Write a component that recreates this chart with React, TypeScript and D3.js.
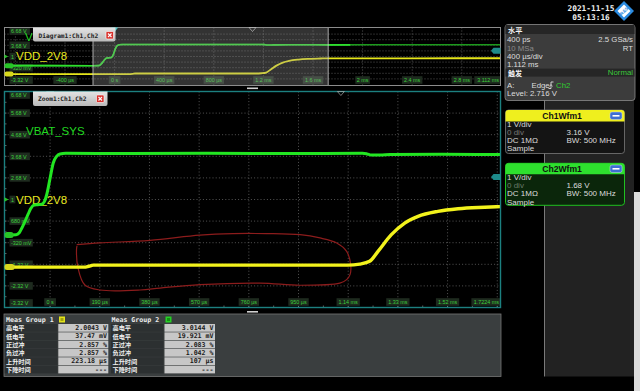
import React from "react";
import * as d3 from "d3";

type P = [number, number];

// ---------------- data ----------------
// Zoom1 (main) window: time in µs, volts on grid
const mainTimeDomain: P = [-174.4, 1722.4];
const mainTimeTicks = [0, 190, 380, 570, 760, 950, 1140, 1330, 1520, 1710];
const mainTimeLabels = ["0 s", "190 µs", "380 µs", "570 µs", "760 µs", "950 µs", "1.14 ms", "1.33 ms", "1.52 ms", ""];
const mainEndLabel = "1.7224 ms";

const voltDomain: P = [-3.32, 6.68];
const voltTicks = [6.68, 5.68, 4.68, 3.68, 2.68, 1.68, 0.68, -0.32, -1.32, -2.32, -3.32];
// 1.68 V label is hidden behind the VDD_2V8 text except its first digit
const voltLabels = ["6.68 V", "5.68 V", "4.68 V", "3.68 V", "2.68 V", "1", "680 mV", "-320 mV", "-1.32 V", "-2.32 V", "-3.32 V"];

// Diagram1 (overview)
const ovTimeDomain: P = [-888, 3112];
const ovTimeTicks = [-800, -400, 0, 400, 800, 1200, 1600, 2000, 2400, 2800];
const ovTimeLabels = ["", "-400 µs", "0 s", "400 µs", "800 µs", "1.2 ms", "1.6 ms", "2 ms", "2.4 ms", "2.8 ms"];
const ovEndLabel = "3.112 ms";
const ovVoltLabelTicks = [6.68, 3.68, 1.68, -0.32, -3.32];
const ovVoltLabels = ["6.68 V", "3.68 V", "1", "-320 mV", "-3.32 V"];

// Traces (t µs, V)
const vbatSys: P[] = [
  [-174.4, 0.04], [-130, 0.05], [-118, 0.14], [-108, 0.36], [-96, 0.67], [-84, 1.0], [-74, 1.26],
  [-64, 1.41], [-48, 1.44], [-32, 1.46], [-22, 1.58], [-13, 1.9], [0, 2.67], [12, 3.37], [25, 3.68],
  [38, 3.79], [60, 3.82], [300, 3.81], [600, 3.82], [900, 3.81], [1195, 3.82], [1212, 3.79],
  [1228, 3.74], [1262, 3.74], [1300, 3.76], [1500, 3.77], [1722.4, 3.76],
];
const vdd2v8: P[] = [
  [-174.4, -1.45], [130, -1.45], [148, -1.41], [165, -1.36], [700, -1.36], [1138, -1.36],
  [1184, -1.31], [1222, -1.18], [1254, -0.72], [1305, 0.05], [1356, 0.59], [1407, 0.9],
  [1483, 1.13], [1560, 1.25], [1662, 1.32], [1722.4, 1.35],
];
const ovVbatPre: P[] = [[-888, 0.05]];
const ovVbatPost: P[] = [[2400, 3.77], [3112, 3.77]];
const ovVddPre: P[] = [[-888, -1.45]];
const ovVddPost: P[] = [[2400, 1.36], [3112, 1.37]];
const ovGreenBrightEnd = 1900;

// hand-drawn red annotation loop (t µs, V)
const annotationLoop: P[] = [
  [101.7, -0.41], [190.8, -0.33], [382, -0.21], [573, 0.03], [699, 0.1], [828, 0.1], [956, 0.05],
  [1032, -0.1], [1096, -0.33], [1134, -0.72], [1149.5, -1.34], [1147, -1.8], [1134, -2.03],
  [1108, -2.19], [956, -2.29], [803, -2.19], [573, -2.26], [420, -2.42], [344, -2.51],
  [191, -2.51], [133, -2.28], [106.7, -1.49], [100.9, -0.66], [102.8, -0.47],
];

const trigLevel = 2.716;
const horizPos = 1112;
const ch2Ref = 0.04;
const ch1Ref = -1.45;

// Panels
const horizRows: [string, string][] = [["400 ps", "2.5 GSa/s"], ["10 MSa", "RT"], ["400 µs/div", ""], ["1.112 ms", ""]];
const ch1Rows: [string, string][] = [["1 V/div", ""], ["0 div", "3.16 V"], ["DC 1MΩ", "BW: 500 MHz"], ["Sample", ""]];
const ch2Rows: [string, string][] = [["1 V/div", ""], ["0 div", "1.68 V"], ["DC 1MΩ", "BW: 500 MHz"], ["Sample", ""]];

const measLabels = ["高电平", "低电平", "正过冲", "负过冲", "上升时间", "下降时间"];
const measGroup1 = ["2.0043 V", "37.47 mV", "2.857 %", "2.857 %", "223.18 µs", "---"];
const measGroup2 = ["3.0144 V", "19.921 mV", "2.083 %", "1.042 %", "107 µs", "---"];

// ---------------- drawing ----------------
const SANS = "'Liberation Sans', Arial, sans-serif";
const MONO = "'DejaVu Sans Mono', monospace";
const CJK = "'Noto Sans CJK SC', sans-serif";

function Tag({ x, y, text, anchor = "start" }: { x: number; y: number; text: string; anchor?: string }) {
  const w = text.length * 2.9 + 3;
  const x0 = anchor === "start" ? x - 1.5 : anchor === "middle" ? x - w / 2 : x - w + 1.5;
  return (
    <g>
      <rect x={x0} y={y - 3.8} width={w} height={7.6} fill="#1e2b1f" />
      <text x={x} y={y + 0.3} textAnchor={anchor as any} dominantBaseline="central" fontSize={5.4} fill="#3ccf3c" fontFamily={SANS}>
        {text}
      </text>
    </g>
  );
}

function CloseBtn({ x, y }: { x: number; y: number }) {
  return (
    <g>
      <rect x={x} y={y} width={7.5} height={7.5} rx={1} fill="#d8312c" stroke="#fff" strokeWidth={0.6} />
      <path d={`M${x + 2},${y + 2} L${x + 5.5},${y + 5.5} M${x + 5.5},${y + 2} L${x + 2},${y + 5.5}`} stroke="#fff" strokeWidth={1.1} />
    </g>
  );
}

export default function App() {
  const xMain = d3.scaleLinear().domain(mainTimeDomain).range([4.5, 500.5]);
  const yMain = d3.scaleLinear().domain(voltDomain).range([307.5, 91.5]);
  const xOv = d3.scaleLinear().domain(ovTimeDomain).range([4.5, 500.5]);
  const yOv = d3.scaleLinear().domain(voltDomain).range([84.5, 28.5]);

  const lineMain = d3.line<P>().x((d) => xMain(d[0])).y((d) => yMain(d[1])).curve(d3.curveMonotoneX);
  const lineOv = d3.line<P>().x((d) => xOv(d[0])).y((d) => yOv(d[1])).curve(d3.curveMonotoneX);
  const loopLine = d3.line<P>().x((d) => xMain(d[0])).y((d) => yMain(d[1])).curve(d3.curveCatmullRom.alpha(0.5));

  const ovGreen = [...ovVbatPre, ...vbatSys, ...ovVbatPost];
  const ovYellow = [...ovVddPre, ...vdd2v8, ...ovVddPost];

  const mainTop = 91.5, mainBot = 307.5, left = 4.5, right = 500.5;
  const ovTop = 27.5, ovBot = 85.5;

  const halfT = d3.range(-95, 1722, 95);
  const halfV = d3.range(-3.32, 6.7, 0.5);

  const zoomX0 = xOv(mainTimeDomain[0]);
  const zoomX1 = xOv(mainTimeDomain[1]);

  const rowH = 8.33;
  const tableTop = 324;

  return (
    <svg width={640} height={391} style={{ position: "absolute", left: 0, top: 0, display: "block" }} fontFamily={SANS}>
      <defs>
        <clipPath id="clipMain"><rect x={left} y={mainTop} width={right - left} height={mainBot - mainTop} /></clipPath>
        <clipPath id="clipOv"><rect x={left} y={ovTop} width={right - left} height={ovBot - ovTop} /></clipPath>
        <clipPath id="clipOvBright"><rect x={left} y={ovTop} width={xOv(ovGreenBrightEnd) - left} height={ovBot - ovTop} /></clipPath>
        <clipPath id="clipOvTitle"><rect x={left} y={ovTop} width={28} height={20} /></clipPath>
        <linearGradient id="tabG" x1="0" y1="0" x2="0" y2="1">
          <stop offset="0" stopColor="#e4e4e4" />
          <stop offset="1" stopColor="#b9b9b9" />
        </linearGradient>
      </defs>
      <rect x={0} y={0} width={640} height={391} fill="#000" />

      {/* right side dark area */}
      <rect x={545} y={100} width={89} height={276.5} fill="#222" />
      <line x1={544.5} y1={100} x2={544.5} y2={376.5} stroke="#7a7a7a" strokeWidth={1} />
      <rect x={634} y={192} width={6} height={199} fill="#dcdcdc" />

      {/* ================= Overview (Diagram1) ================= */}
      <g>
        {ovTimeTicks.map((t, i) => (
          <line key={"ovg" + i} x1={xOv(t)} x2={xOv(t)} y1={ovTop} y2={ovBot} stroke="#6a6a6a" strokeDasharray="1 2" strokeWidth={0.8} />
        ))}
        {voltTicks.slice(1, -1).map((v, i) => (
          <line key={"ovh" + i} x1={left} x2={right} y1={yOv(v)} y2={yOv(v)} stroke="#6a6a6a" strokeDasharray="1 2" strokeWidth={0.8} />
        ))}
        {ovVoltLabelTicks.map((v, i) => {
          const y = Math.min(Math.max(yOv(v), 31), 80);
          return <Tag key={"ovyl" + i} x={11} y={y} text={ovVoltLabels[i]} />;
        })}
        {ovTimeTicks.map((t, i) =>
          ovTimeLabels[i] ? <Tag key={"ovxl" + i} x={xOv(t)} y={80} text={ovTimeLabels[i]} anchor="middle" /> : null
        )}
        <Tag x={499} y={80} text={ovEndLabel} anchor="end" />
        <g clipPath="url(#clipOvTitle)">
          <text x={25} y={36.5} dominantBaseline="central" fontSize={11.5} fill="#22d822">VBAT_SYS</text>
        </g>
        <text x={16} y={56.3} dominantBaseline="central" fontSize={11.5} fill="#e8e820">VDD_2V8</text>

        <g clipPath="url(#clipOv)">
          <path d={lineOv(ovYellow) || ""} fill="none" stroke="#e6e61a" strokeWidth={1.8} />
          <path d={lineOv(ovGreen) || ""} fill="none" stroke="#1c9a1c" strokeWidth={1.6} />
          <path d={lineOv(ovGreen) || ""} fill="none" stroke="#2ee02e" strokeWidth={1.6} clipPath="url(#clipOvBright)" />
        </g>

        {/* zoom window overlay */}
        <rect x={zoomX0} y={ovTop} width={zoomX1 - zoomX0} height={ovBot - ovTop} fill="#9a9a9a" opacity={0.33} />
        <line x1={zoomX0} x2={zoomX0} y1={ovTop} y2={ovBot} stroke="#d0d0d0" strokeWidth={0.8} />
        <line x1={zoomX1} x2={zoomX1} y1={ovTop} y2={ovBot} stroke="#d0d0d0" strokeWidth={0.8} />

        <rect x={left} y={ovTop} width={right - left} height={ovBot - ovTop} fill="none" stroke="#8c8c8c" strokeWidth={1} />

        {/* channel refs */}
        <path d={`M4.5,${yOv(1.68) - 2} L8,${yOv(1.68)} L4.5,${yOv(1.68) + 2} Z`} fill="#27c527" />
        <rect x={4.5} y={yOv(ch2Ref) - 2.5} width={9} height={5} rx={2} fill="#27c527" />
        <rect x={4.5} y={yOv(ch1Ref) - 2.5} width={9} height={5} rx={2} fill="#d8d81c" />
        {/* trigger time marker */}
        <path d={`M${xOv(0) - 3.5},${ovTop} L${xOv(0) + 3.5},${ovTop} L${xOv(0)},${ovTop + 4.5} Z`} fill="#4cc8c8" />
        <path d={`M${xOv(horizPos) - 3.5},${ovTop} L${xOv(horizPos) + 3.5},${ovTop} L${xOv(horizPos)},${ovTop + 4} Z`} fill="none" stroke="#bbb" strokeWidth={0.7} />
        {/* trigger level */}
        <path d={`M${right},${yOv(trigLevel) - 3} L${right - 7},${yOv(trigLevel) - 3} L${right - 9.5},${yOv(trigLevel)} L${right - 7},${yOv(trigLevel) + 3} L${right},${yOv(trigLevel) + 3} Z`} fill="#1d8a8a" />

        {/* tab */}
        <path d={`M33,${ovTop} H115.5 V39.5 Q115.5,41.5 113.5,41.5 H35 Q33,41.5 33,39.5 Z`} fill="url(#tabG)" />
        <text x={38.5} y={35} dominantBaseline="central" fontSize={6.2} fontWeight="bold" fill="#222" fontFamily={MONO}>Diagram1:Ch1,Ch2</text>
        <CloseBtn x={106} y={31.5} />
      </g>

      {/* separator handle */}
      <rect x={247} y={87.5} width={11} height={1.6} fill="#d0d0d0" />

      {/* ================= Main (Zoom1) ================= */}
      <g>
        {mainTimeTicks.map((t, i) => (
          <line key={"mg" + i} x1={xMain(t)} x2={xMain(t)} y1={mainTop} y2={mainBot} stroke="#6a6a6a" strokeDasharray="1 2.2" strokeWidth={0.8} />
        ))}
        {voltTicks.slice(1, -1).map((v, i) => (
          <line key={"mh" + i} x1={left} x2={right} y1={yMain(v)} y2={yMain(v)} stroke="#6a6a6a" strokeDasharray="1 2.2" strokeWidth={0.8} />
        ))}
        {halfT.map((t, i) => (
          <line key={"mt" + i} x1={xMain(t)} x2={xMain(t)} y1={mainBot - 2} y2={mainBot} stroke="#8a8a8a" strokeWidth={0.7} />
        ))}
        {halfV.map((v, i) => (
          <line key={"mv" + i} x1={left} x2={left + 2} y1={yMain(v)} y2={yMain(v)} stroke="#8a8a8a" strokeWidth={0.7} />
        ))}

        {voltTicks.map((v, i) => {
          const y = Math.min(Math.max(yMain(v), 95), 303);
          return <Tag key={"myl" + i} x={11} y={y} text={voltLabels[i]} />;
        })}
        {mainTimeTicks.map((t, i) =>
          mainTimeLabels[i] ? <Tag key={"mxl" + i} x={xMain(t)} y={302} text={mainTimeLabels[i]} anchor="middle" /> : null
        )}
        <Tag x={499} y={302} text={mainEndLabel} anchor="end" />

        <text x={26} y={130.7} dominantBaseline="central" fontSize={11.5} fill="#22d822">VBAT_SYS</text>
        <text x={16} y={199.7} dominantBaseline="central" fontSize={11.5} fill="#e8e820">VDD_2V8</text>

        <g clipPath="url(#clipMain)">
          <path d={loopLine(annotationLoop) || ""} fill="none" stroke="#8c1c1c" strokeWidth={1.2} />
          <path d={lineMain(vdd2v8) || ""} fill="none" stroke="#f2f21c" strokeWidth={3.4} />
          <path d={lineMain(vbatSys) || ""} fill="none" stroke="#22e622" strokeWidth={3} />
        </g>

        <rect x={left} y={mainTop} width={right - left} height={mainBot - mainTop} fill="none" stroke="#1c8080" strokeWidth={1.4} />

        {/* channel refs */}
        <path d={`M4.5,${yMain(1.68) - 2.2} L8.5,${yMain(1.68)} L4.5,${yMain(1.68) + 2.2} Z`} fill="#27c527" />
        <rect x={4.5} y={yMain(ch2Ref) - 3} width={9} height={6} rx={2.5} fill="#27c527" />
        <rect x={4.5} y={yMain(ch1Ref) - 3} width={10} height={6} rx={2.5} fill="#d8d81c" />

        {/* trigger time / horiz position markers */}
        <path d={`M${xMain(0) - 4},${mainTop} L${xMain(0) + 4},${mainTop} L${xMain(0)},${mainTop + 6} Z`} fill="#5ccccc" />
        <path d={`M${xMain(horizPos) - 3.5},${mainTop} L${xMain(horizPos) + 3.5},${mainTop} L${xMain(horizPos)},${mainTop + 4} Z`} fill="none" stroke="#aaa" strokeWidth={0.7} />
        {/* trigger level */}
        <path d={`M${right},${yMain(trigLevel) - 3} L${right - 7},${yMain(trigLevel) - 3} L${right - 9.5},${yMain(trigLevel)} L${right - 7},${yMain(trigLevel) + 3} L${right},${yMain(trigLevel) + 3} Z`} fill="#1d8a8a" />

        {/* tab */}
        <path d={`M33,${mainTop} H107.5 V104 Q107.5,106 105.5,106 H35 Q33,106 33,104 Z`} fill="url(#tabG)" />
        <text x={38} y={98.8} dominantBaseline="central" fontSize={6.2} fontWeight="bold" fill="#222" fontFamily={MONO}>Zoom1:Ch1,Ch2</text>
        <CloseBtn x={96.5} y={95} />
      </g>

      <rect x={247} y={311} width={11} height={1.6} fill="#d0d0d0" />

      {/* ================= Measurement panel ================= */}
      <g>
        <rect x={4} y={314} width={497} height={62.5} fill="#3a3e3f" stroke="#777" strokeWidth={0.8} />
        <text x={6} y={319.6} dominantBaseline="central" fontSize={6.6} fontWeight="bold" fill="#eee" fontFamily={MONO}>Meas Group 1</text>
        <rect x={59} y={316.5} width={6} height={6} fill="#e3e31a" />
        <rect x={60.5} y={318} width={3} height={3} fill="#a0a010" />
        <text x={111.5} y={319.6} dominantBaseline="central" fontSize={6.6} fontWeight="bold" fill="#eee" fontFamily={MONO}>Meas Group 2</text>
        <rect x={165.5} y={316.5} width={6} height={6} fill="#25d025" />
        <rect x={167} y={318} width={3} height={3} fill="#139013" />
        {measLabels.map((lab, i) => {
          const y = tableTop + i * rowH;
          return (
            <g key={"row" + i}>
              <rect x={4.7} y={y} width={52.8} height={rowH - 0.6} fill="#2c3031" />
              <rect x={58.3} y={y} width={50} height={rowH - 0.6} fill="#c7c7c7" />
              <rect x={111} y={y} width={52.5} height={rowH - 0.6} fill="#2c3031" />
              <rect x={164.5} y={y} width={50.5} height={rowH - 0.6} fill="#c7c7c7" />
              <text x={6} y={y + rowH / 2 - 0.2} dominantBaseline="central" fontSize={6.2} fontWeight="bold" fill="#f0f0f0" fontFamily={CJK}>{lab}</text>
              <text x={112.5} y={y + rowH / 2 - 0.2} dominantBaseline="central" fontSize={6.2} fontWeight="bold" fill="#f0f0f0" fontFamily={CJK}>{lab}</text>
              <text x={107} y={y + rowH / 2 - 0.1} textAnchor="end" dominantBaseline="central" fontSize={6.6} fontWeight="bold" fill="#1a1a1a" fontFamily={MONO}>{measGroup1[i]}</text>
              <text x={213.5} y={y + rowH / 2 - 0.1} textAnchor="end" dominantBaseline="central" fontSize={6.6} fontWeight="bold" fill="#1a1a1a" fontFamily={MONO}>{measGroup2[i]}</text>
            </g>
          );
        })}
      </g>

      {/* ================= Date & logo ================= */}
      <text x={591} y={8.5} textAnchor="middle" dominantBaseline="central" fontSize={7.8} fontWeight="bold" fill="#f2f2f2" fontFamily={MONO}>2021-11-15</text>
      <text x={591} y={17} textAnchor="middle" dominantBaseline="central" fontSize={7.8} fontWeight="bold" fill="#f2f2f2" fontFamily={MONO}>05:13:16</text>
      <polygon points="624,1 634,11 624,21 614,11" fill="#2b8be0" />
      <polygon points="624,4.5 630.5,11 624,17.5 617.5,11" fill="#ffffff" />
      <text x={624} y={11.3} textAnchor="middle" dominantBaseline="central" fontSize={4.6} fontWeight="bold" fill="#2b8be0" transform="rotate(-45 624 11)">R&S</text>

      {/* ================= Horizontal / trigger panel ================= */}
      <g fontSize={7.8} fill="#dcdcdc">
        <rect x={505} y={24.5} width={130} height={76} rx={3} fill="#3c3c3c" stroke="#8a8a8a" strokeWidth={0.8} />
        <rect x={505.5} y={25} width={129} height={9} fill="#262626" />
        <text x={508} y={29.8} dominantBaseline="central" fontSize={7.2} fontFamily={CJK} fontWeight="bold" fill="#f2f2f2">水平</text>
        {horizRows.map((r, i) => (
          <g key={"hr" + i}>
            <text x={507} y={39.8 + i * 8.2} dominantBaseline="central" fill={i === 1 ? "#8a8a8a" : "#dcdcdc"}>{r[0]}</text>
            <text x={633} y={39.8 + i * 8.2} textAnchor="end" dominantBaseline="central" fill="#dcdcdc">{r[1]}</text>
          </g>
        ))}
        <rect x={505.5} y={68.6} width={129} height={8} fill="#262626" />
        <text x={508} y={72.8} dominantBaseline="central" fontSize={7} fontFamily={CJK} fontWeight="bold" fill="#f2f2f2">触发</text>
        <text x={633} y={72.8} textAnchor="end" dominantBaseline="central" fill="#3cc83c">Normal</text>
        <text x={507} y={85} dominantBaseline="central">A:</text>
        <text x={531.5} y={85} dominantBaseline="central">Edge</text>
        <path d="M548.5,88.5 h2.5 v-6.5 h2.5" fill="none" stroke="#dcdcdc" strokeWidth={0.9} />
        <path d="M549.5,86.5 l1.5,-2 l1.5,2" fill="none" stroke="#dcdcdc" strokeWidth={0.7} />
        <text x={556} y={85} dominantBaseline="central" fill="#2fd02f">Ch2</text>
        <text x={507} y={93.3} dominantBaseline="central">Level: 2.716 V</text>
      </g>

      {/* ================= Ch1Wfm1 ================= */}
      <g fontSize={8}>
        <rect x={505.5} y={110} width={119} height={43.5} rx={3} fill="#141414" stroke="#7a7a7a" strokeWidth={0.8} />
        <path d="M505.5,121.5 V113 Q505.5,110 508.5,110 H621.5 Q624.5,110 624.5,113 V121.5 Z" fill="#efef1e" />
        <text x={562} y={115.8} textAnchor="middle" dominantBaseline="central" fontSize={8.6} fontWeight="bold" fill="#111">Ch1Wfm1</text>
        <rect x={610} y={112} width={12} height={7.5} rx={2} fill="#3e6fd3" stroke="#cfd8f0" strokeWidth={0.5} />
        <rect x={612.5} y={115} width={7} height={1.6} fill="#fff" />
        {ch1Rows.map((r, i) => (
          <g key={"c1" + i}>
            <text x={507} y={124.3 + i * 8} dominantBaseline="central" fill={i === 1 ? "#777" : "#dcdcdc"}>{r[0]}</text>
            <text x={566.5} y={124.3 + i * 8} dominantBaseline="central" fill="#dcdcdc">{r[1]}</text>
          </g>
        ))}
      </g>

      {/* ================= Ch2Wfm1 ================= */}
      <g fontSize={8}>
        <rect x={505.5} y={163.3} width={119} height={42} rx={3} fill="#0b260b" stroke="#20c020" strokeWidth={1} />
        <path d="M505.5,174.3 V166.3 Q505.5,163.3 508.5,163.3 H621.5 Q624.5,163.3 624.5,166.3 V174.3 Z" fill="#2ee02e" />
        <text x={562} y={168.8} textAnchor="middle" dominantBaseline="central" fontSize={8.6} fontWeight="bold" fill="#111">Ch2Wfm1</text>
        <rect x={610} y={165} width={12} height={7.5} rx={2} fill="#3e6fd3" stroke="#cfd8f0" strokeWidth={0.5} />
        <rect x={612.5} y={168} width={7} height={1.6} fill="#fff" />
        {ch2Rows.map((r, i) => (
          <g key={"c2" + i}>
            <text x={507} y={177.2 + i * 8.3} dominantBaseline="central" fill={i === 1 ? "#6a7a6a" : "#dcdcdc"}>{r[0]}</text>
            <text x={566.5} y={177.2 + i * 8.3} dominantBaseline="central" fill="#dcdcdc">{r[1]}</text>
          </g>
        ))}
      </g>
    </svg>
  );
}
